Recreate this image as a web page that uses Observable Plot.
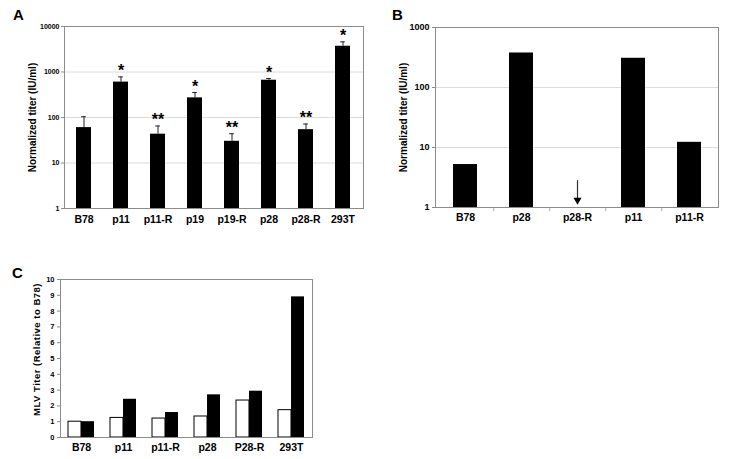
<!DOCTYPE html>
<html>
<head>
<meta charset="utf-8">
<script src="https://cdn.jsdelivr.net/npm/d3@7"></script>
<script src="https://cdn.jsdelivr.net/npm/@observablehq/plot@0.6"></script>
<style>
  body { margin: 0; background: #fff; }
  #root { position: relative; width: 733px; height: 459px; font-family: "Liberation Sans", Arial, sans-serif; color: #000; }
  .panel { position: absolute; }
  .letter { position: absolute; font-weight: bold; font-size: 15px; line-height: 15px; }
</style>
</head>
<body>
<div id="root"></div>
<script>
// ---------- Panel A ----------
const aCategories = ["B78", "p11", "p11-R", "p19", "p19-R", "p28", "p28-R", "293T"];
const aTiter = [60, 600, 43, 270, 30, 660, 54, 3680];
const aErrorTop = [104, 780, 65, 355, 44, 720, 72, 4600];
const aStars = ["", "*", "**", "*", "**", "*", "**", "*"];
const aTicks = [1, 10, 100, 1000, 10000];
const aLabel = "Normalized titer (IU/ml)";

// ---------- Panel B ----------
const bCategories = ["B78", "p28", "p28-R", "p11", "p11-R"];
const bTiter = [5.2, 376, null, 307, 12.2];
const bTicks = [1, 10, 100, 1000];
const bLabel = "Normalized titer (IU/ml)";
const bArrowFrom = 2.8;   // arrow for undetected titer
const bArrowHead = 1.33;

// ---------- Panel C ----------
const cCategories = ["B78", "p11", "p11-R", "p28", "P28-R", "293T"];
const cOpen = [1.0, 1.24, 1.2, 1.33, 2.34, 1.73];
const cFilled = [1.0, 2.42, 1.58, 2.7, 2.93, 8.9];
const cTicks = [0, 1, 2, 3, 4, 5, 6, 7, 8, 9, 10];
const cLabel = "MLV Titer (Relative to B78)";

const root = document.getElementById("root");
const FONT = "Liberation Sans, Arial, sans-serif";
const FRAME = "#8c8c8c";
const GRID = "#dcdcdc";

function place(el, left, top) {
  const d = document.createElement("div");
  d.className = "panel";
  d.style.left = left + "px";
  d.style.top = top + "px";
  d.appendChild(el);
  root.appendChild(d);
}
function letter(t, left, top) {
  const d = document.createElement("div");
  d.className = "letter";
  d.textContent = t;
  d.style.left = left + "px";
  d.style.top = top + "px";
  root.appendChild(d);
}

// ----- A -----
{
  const W = 370, H = 235, mL = 64, mR = 7, mT = 26, mB = 27;
  const pIn = 0.59;
  const step = (W - mL - mR) / aCategories.length;
  const bw = step * (1 - pIn);
  const cap = 2.5;
  const data = aCategories.map((c, i) => ({cat: c, v: aTiter[i], e: aErrorTop[i], s: aStars[i]}));
  const p = Plot.plot({
    width: W, height: H, marginLeft: mL, marginRight: mR, marginTop: mT, marginBottom: mB,
    style: {fontFamily: FONT, background: "transparent", overflow: "visible", color: "#000"},
    x: {domain: aCategories, paddingInner: pIn, paddingOuter: pIn / 2},
    y: {type: "log", domain: [1, 10000]},
    marks: [
      Plot.gridY(aTicks.slice(1, -1), {stroke: GRID, strokeOpacity: 1}),
      Plot.ruleX(data, {x: "cat", y1: "v", y2: "e", stroke: "#222", strokeWidth: 1}),
      Plot.tickY(data, {x: "cat", y: "e", stroke: "#222", strokeWidth: 1, insetLeft: bw / 2 - cap, insetRight: bw / 2 - cap}),
      Plot.barY(data, {x: "cat", y1: 1, y2: "v", fill: "#000"}),
      Plot.text(data, {x: "cat", y: "e", text: "s", dy: -6, fontSize: 16, fontWeight: "bold"}),
      Plot.frame({stroke: FRAME}),
      Plot.axisY({ticks: aTicks, tickFormat: d3.format("d"), tickSize: 3, tickPadding: 2, fontSize: 7, fontWeight: "bold", stroke: FRAME, label: null}),
      Plot.axisX({tickSize: 0, tickPadding: 7, fontSize: 10.5, fontWeight: "bold", label: null}),
      Plot.text([aLabel], {frameAnchor: "left", textAnchor: "middle", dx: -32, rotate: -90, fontSize: 10, fontWeight: "bold"})
    ]
  });
  place(p, 0, 0);
}

// ----- B -----
{
  const W = 363, H = 235, mL = 65, mR = 15, mT = 27, mB = 28;
  const pIn = 0.577;
  const step = (W - mL - mR) / bCategories.length;
  const data = bCategories.map((c, i) => ({cat: c, v: bTiter[i]}));
  const present = data.filter(d => d.v != null);
  const missing = data.filter(d => d.v == null);
  const p = Plot.plot({
    width: W, height: H, marginLeft: mL, marginRight: mR, marginTop: mT, marginBottom: mB,
    style: {fontFamily: FONT, background: "transparent", overflow: "visible", color: "#000"},
    x: {domain: bCategories, paddingInner: pIn, paddingOuter: pIn / 2},
    y: {type: "log", domain: [1, 1000]},
    marks: [
      Plot.gridY(bTicks.slice(1, -1), {stroke: GRID, strokeOpacity: 1}),
      Plot.barY(present, {x: "cat", y1: 1, y2: "v", fill: "#000"}),
      Plot.ruleX(missing, {x: "cat", y1: bArrowFrom, y2: bArrowHead, stroke: "#333", strokeWidth: 1.2}),
      Plot.dot(missing, {x: "cat", y: bArrowHead, symbol: "triangle", rotate: 180, r: 3, fill: "#000", stroke: null}),
      Plot.tickX(bCategories.slice(0, -1), {x: d => d, dx: step / 2, insetTop: H - mT - mB, insetBottom: -4, stroke: "#aaa"}),
      Plot.frame({stroke: FRAME}),
      Plot.axisY({ticks: bTicks, tickFormat: d3.format("d"), tickSize: 3, tickPadding: 3, fontSize: 9, fontWeight: "bold", stroke: FRAME, label: null}),
      Plot.axisX({tickSize: 0, tickPadding: 6, fontSize: 10.5, fontWeight: "bold", label: null}),
      Plot.text([bLabel], {frameAnchor: "left", textAnchor: "middle", dx: -32, rotate: -90, fontSize: 10, fontWeight: "bold"})
    ]
  });
  place(p, 370, 0);
}

// ----- C -----
{
  const W = 370, H = 224, mL = 60, mR = 58, mT = 44, mB = 22;
  const pIn = 0.38;
  const step = (W - mL - mR) / cCategories.length;
  const bw = step * (1 - pIn);
  const data = cCategories.map((c, i) => ({cat: c, open: cOpen[i], filled: cFilled[i]}));
  const p = Plot.plot({
    width: W, height: H, marginLeft: mL, marginRight: mR, marginTop: mT, marginBottom: mB,
    style: {fontFamily: FONT, background: "transparent", overflow: "visible", color: "#000"},
    x: {domain: cCategories, paddingInner: pIn, paddingOuter: pIn / 2},
    y: {domain: [0, 10]},
    marks: [
      Plot.barY(data, {x: "cat", y: "open", fill: "#fff", stroke: "#000", strokeWidth: 1, insetRight: bw / 2}),
      Plot.barY(data, {x: "cat", y: "filled", fill: "#000", insetLeft: bw / 2}),
      Plot.frame({stroke: FRAME}),
      Plot.axisY({ticks: cTicks, tickSize: 3, tickPadding: 3, fontSize: 7.5, fontWeight: "bold", stroke: FRAME, label: null}),
      Plot.axisX({tickSize: 0, tickPadding: 6, fontSize: 10.5, fontWeight: "bold", label: null}),
      Plot.text([cLabel], {frameAnchor: "left", textAnchor: "middle", dx: -23.5, dy: -9, rotate: -90, fontSize: 9.5, fontWeight: "bold"})
    ]
  });
  d3.select(p).selectAll("text").filter(function () { return this.textContent === cLabel; })
    .attr("letter-spacing", "0.5px");
  place(p, 0, 235);
}

letter("A", 13, 7);
letter("B", 392, 7);
letter("C", 12, 265);
</script>
</body>
</html>
